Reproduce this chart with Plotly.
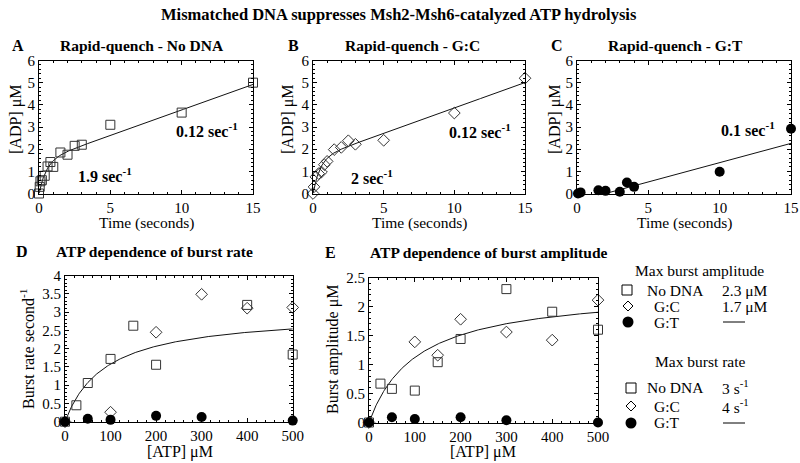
import numpy as np
import plotly.graph_objects as go

# ---------------- data ----------------
# Panel A: rapid quench, no DNA
a_time = [0, 0.05, 0.1, 0.2, 0.4, 0.6, 0.8, 1.0, 1.5, 2.0, 2.5, 3.0, 5, 10, 15]
a_adp = [0, 0.3, 0.55, 0.6, 0.8, 1.22, 1.42, 1.2, 1.85, 1.75, 2.15, 2.2, 3.1, 3.65, 5.0]
a_fit = dict(amp=1.47, k=1.9, v=0.23)

# Panel B: rapid quench, G:C
b_time = [0, 0.07, 0.2, 0.4, 0.6, 0.8, 1.0, 1.5, 2.0, 2.5, 3.0, 5, 10, 15]
b_adp = [0, 0.3, 0.75, 0.9, 0.97, 1.3, 1.45, 1.98, 2.08, 2.38, 2.22, 2.4, 3.63, 5.2]
b_fit = dict(amp=1.57, k=2.0, v=0.229)

# Panel C: rapid quench, G:T
c_time = [0.07, 0.25, 0.65, 0.85, 1.05, 1.5, 2.0, 2.5, 3.0, 3.5, 4.0, 6.0, 10, 15]
c_adp = [0, 0.05, -0.05, -0.05, -0.05, 0.15, 0.12, -0.05, 0.08, 0.5, 0.3, -0.05, 0.98, 2.92]
c_fit = dict(slope=0.174, t0=2.0)

# Panel D: burst rate vs ATP
d_atp_nodna = [0, 25, 50, 100, 150, 200, 400, 500]
d_rate_nodna = [0, 0.45, 1.06, 1.72, 2.63, 1.56, 3.2, 1.84]
d_atp_gc = [0, 100, 200, 300, 400, 500]
d_rate_gc = [0, 0.26, 2.45, 3.49, 3.11, 3.13]
d_atp_gt = [0, 50, 100, 200, 300, 500]
d_rate_gt = [0, 0.08, 0.05, 0.16, 0.13, 0.03]
d_fit = dict(vmax=3.0, km=90)

# Panel E: burst amplitude vs ATP
e_atp_nodna = [0, 25, 50, 100, 150, 200, 300, 400, 500]
e_amp_nodna = [0, 0.67, 0.58, 0.55, 1.04, 1.44, 2.3, 1.91, 1.6]
e_atp_gc = [0, 100, 150, 200, 300, 400, 500]
e_amp_gc = [0, 1.39, 1.16, 1.78, 1.56, 1.42, 2.11]
e_atp_gt = [0, 50, 100, 200, 300, 500]
e_amp_gt = [0, 0.09, 0.06, 0.09, 0.04, 0.0]
e_fit = dict(vmax=2.3, km=105)

# ---------------- figure ----------------
W, H = 800, 463
FONT = "Liberation Serif, Times New Roman, serif"
LINE = "#111"
MK = "#333"


def px(x):
    return x / W


def py(y):
    return 1 - y / H


fig = go.Figure()

SQ = dict(symbol="square-open", size=9, color=MK, line=dict(width=1, color=MK))
DI = dict(symbol="diamond-open", size=9, color=MK, line=dict(width=1, color=MK))
CI = dict(symbol="circle", size=10, color="black", line=dict(width=0))


def pts(x, y, ax, marker):
    fig.add_trace(go.Scatter(x=x, y=y, mode="markers", marker=marker,
                             xaxis="x" + ax, yaxis="y" + ax, cliponaxis=False,
                             showlegend=False, hoverinfo="skip"))


def curve(x, y, ax):
    fig.add_trace(go.Scatter(x=x, y=y, mode="lines", line=dict(color=LINE, width=1),
                             xaxis="x" + ax, yaxis="y" + ax, showlegend=False,
                             hoverinfo="skip"))


t = np.linspace(0.0, 15, 300)
curve(t, a_fit["amp"] * (1 - np.exp(-a_fit["k"] * t)) + a_fit["v"] * t, "")
pts(a_time, a_adp, "", SQ)

curve(t, b_fit["amp"] * (1 - np.exp(-b_fit["k"] * t)) + b_fit["v"] * t, "2")
pts(b_time, b_adp, "2", DI)

tc = np.linspace(c_fit["t0"], 15, 50)
curve(tc, c_fit["slope"] * (tc - c_fit["t0"]), "3")
pts(c_time, c_adp, "3", CI)

s = np.linspace(0, 500, 300)
curve(s, d_fit["vmax"] * s / (d_fit["km"] + s), "4")
pts(d_atp_nodna, d_rate_nodna, "4", SQ)
pts(d_atp_gc, d_rate_gc, "4", DI)
pts(d_atp_gt, d_rate_gt, "4", CI)

curve(s, e_fit["vmax"] * s / (e_fit["km"] + s), "5")
pts(e_atp_nodna, e_amp_nodna, "5", SQ)
pts(e_atp_gc, e_amp_gc, "5", DI)
pts(e_atp_gt, e_amp_gt, "5", CI)


def axis(dom, rng, dtick, mdtick, anchor):
    return dict(domain=dom, range=rng, dtick=dtick, tick0=0, anchor=anchor,
                automargin=False,
                showline=True, linecolor="black", linewidth=1, mirror="allticks",
                ticks="inside", ticklen=4, tickwidth=1, tickcolor="black",
                minor=dict(ticks="inside", ticklen=2, dtick=mdtick, tickcolor="black", tickwidth=1),
                showgrid=False, zeroline=False, fixedrange=True,
                tickfont=dict(family=FONT, size=15, color="black"))


top, bot = 60.5, 193.5
panels = {
    "": (39, 253, top, bot, [0, 15], 5, 1, [0, 6], 1, 0.2),
    "2": (313, 525, top, bot, [0, 15], 5, 1, [0, 6], 1, 0.2),
    "3": (577, 791, top, bot, [0, 15], 5, 1, [0, 6], 1, 0.2),
    "4": (65, 292.7, 275.7, 421.7, [0, 500], 100, 20, [0, 4], 0.5, 0.1),
    "5": (369, 598, 277.5, 422.5, [0, 500], 100, 20, [0, 2.5], 0.5, 0.1),
}
for k, (x0, x1, y0, y1, xr, xd, xm, yr, yd, ym) in panels.items():
    fig.layout["xaxis" + k] = axis([px(x0), px(x1)], xr, xd, xm, "y" + k)
    fig.layout["yaxis" + k] = axis([py(y1), py(y0)], yr, yd, ym, "x" + k)

ann = []


def text(x, y, s, size=14, bold=False, angle=0, xanchor="center", **kw):
    if bold:
        s = "<b>" + s + "</b>"
    ann.append(dict(x=px(x), y=py(y), xref="paper", yref="paper", text=s, showarrow=False,
                    font=dict(family=FONT, size=size, color="black"), textangle=angle,
                    xanchor=xanchor, yanchor="middle", **kw))


def dtext(x, y, s, ax, size=16):
    ann.append(dict(x=x, y=y, xref="x" + ax, yref="y" + ax, text="<b>" + s + "</b>",
                    showarrow=False, font=dict(family=FONT, size=size, color="black")))


text(399, 15, "Mismatched DNA suppresses Msh2-Msh6-catalyzed ATP hydrolysis", size=16.5, bold=True)

text(18, 45, "A", size=16, bold=True)
text(142, 45, "Rapid-quench - No DNA", size=15.5, bold=True)
text(293, 45, "B", size=16, bold=True)
text(412, 45, "Rapid-quench - G:C", size=15.5, bold=True)
text(557, 45, "C", size=16, bold=True)
text(675, 45, "Rapid-quench - G:T", size=15.5, bold=True)
text(22, 251, "D", size=16, bold=True)
text(154, 251, "ATP dependence of burst rate", size=15.5, bold=True)
text(330, 252, "E", size=16, bold=True)
text(489, 252, "ATP dependence of burst amplitude", size=15.5, bold=True)

for xc in (146, 419, 684):
    text(xc, 223, "Time (seconds)", size=15.5)
for xc in (16, 288, 555):
    text(xc, 120, "[ADP] μM", size=16, angle=-90)
text(180, 452, "[ATP] μM", size=16)
text(483, 452, "[ATP] μM", size=16)
text(27, 349, "Burst rate second<sup>-1</sup>", size=16, angle=-90)
text(333, 350, "Burst amplitude μM", size=16, angle=-90)

dtext(4.6, 0.82, "1.9 sec<sup>-1</sup>", "")
dtext(11.8, 2.85, "0.12 sec<sup>-1</sup>", "")
dtext(4.16, 0.75, "2 sec<sup>-1</sup>", "2")
dtext(11.8, 2.82, "0.12 sec<sup>-1</sup>", "2")
dtext(12.0, 2.9, "0.1 sec<sup>-1</sup>", "3")

# legend block
LS = 15.5
text(699, 270, "Max burst amplitude", size=LS)
text(645, 290, "No DNA", size=LS, xanchor="left")
text(652, 306, "G:C", size=LS, xanchor="left")
text(652, 322, "G:T", size=LS, xanchor="left")
text(720, 290, "2.3 μM", size=LS, xanchor="left")
text(720, 306, "1.7 μM", size=LS, xanchor="left")
text(700, 361, "Max burst rate", size=LS)
text(645, 387, "No DNA", size=LS, xanchor="left")
text(652, 406, "G:C", size=LS, xanchor="left")
text(652, 422, "G:T", size=LS, xanchor="left")
text(720, 387, "3 s<sup>-1</sup>", size=LS, xanchor="left")
text(720, 406, "4 s<sup>-1</sup>", size=LS, xanchor="left")

shapes = []


def sq(cx, cy, r=5):
    shapes.append(dict(type="rect", xref="paper", yref="paper", x0=px(cx - r), x1=px(cx + r),
                       y0=py(cy + r), y1=py(cy - r), line=dict(color="black", width=1)))


def dia(cx, cy, r=5):
    path = "M {} {} L {} {} L {} {} L {} {} Z".format(px(cx - r), py(cy), px(cx), py(cy - r),
                                                      px(cx + r), py(cy), px(cx), py(cy + r))
    shapes.append(dict(type="path", xref="paper", yref="paper", path=path,
                       line=dict(color="black", width=1)))


def circ(cx, cy, r=5.5):
    shapes.append(dict(type="circle", xref="paper", yref="paper", x0=px(cx - r), x1=px(cx + r),
                       y0=py(cy + r), y1=py(cy - r), fillcolor="black",
                       line=dict(color="black", width=0)))


def dash(x0, x1, y):
    shapes.append(dict(type="line", xref="paper", yref="paper", x0=px(x0), x1=px(x1),
                       y0=py(y), y1=py(y), line=dict(color="black", width=1)))


sq(627, 290)
dia(628, 306)
circ(628, 322)
dash(723, 745, 322)
sq(631, 388)
dia(631, 406)
circ(631, 423)
dash(723, 745, 423)

fig.update_layout(width=W, height=H, margin=dict(l=0, r=0, t=0, b=0, pad=0), autosize=False,
                  paper_bgcolor="white", plot_bgcolor="white", annotations=ann, shapes=shapes,
                  font=dict(family=FONT, color="black"))

fig.write_html("out.html", config=dict(displayModeBar=False),
               post_script="document.body.style.margin='0';document.body.style.overflow='hidden';")
